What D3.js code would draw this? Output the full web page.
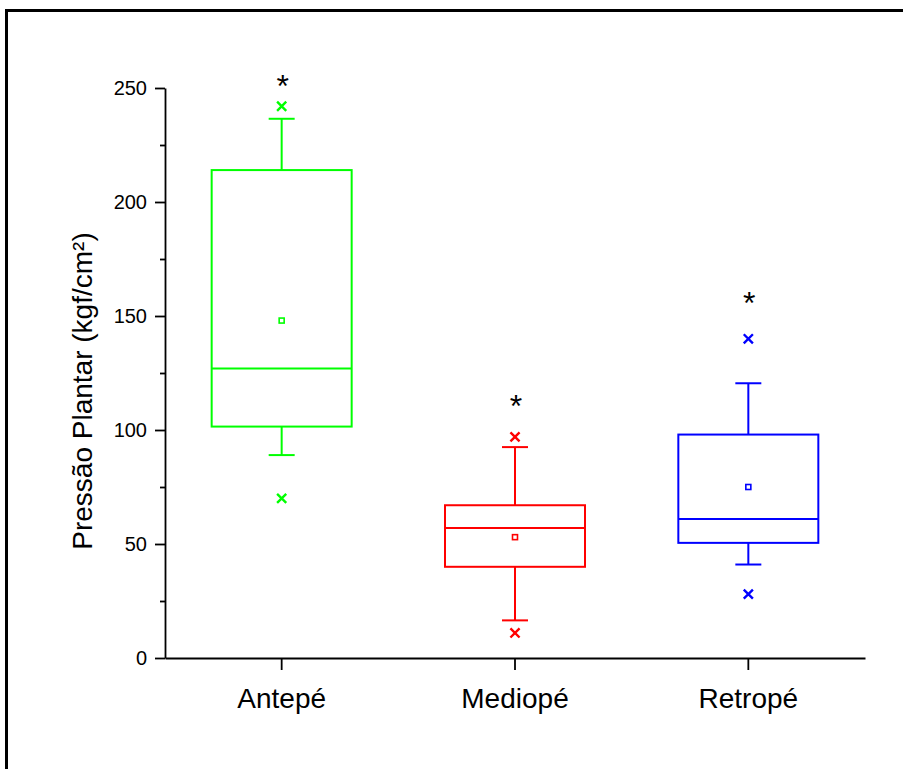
<!DOCTYPE html>
<html>
<head>
<meta charset="utf-8">
<script src="https://cdn.jsdelivr.net/npm/d3@7"></script>
<style>
  html, body { margin: 0; padding: 0; background: #fff; }
  svg { display: block; font-family: Arial, "Liberation Sans", sans-serif; }
</style>
</head>
<body>
<svg id="chart" width="903" height="769"></svg>
<script>
// Plantar pressure by foot region (kgf/cm²)
const categories  = ["Antepé", "Mediopé", "Retropé"];
const colors      = ["#00ff00", "#ff0000", "#0000ff"];
const whiskerLow  = [89, 16.5, 41];
const q1          = [101.5, 40, 50.5];
const median      = [127, 57, 61];
const q3          = [214, 67, 98];
const whiskerHigh = [236.5, 92.5, 120.5];
const mean        = [148, 53, 75];
const outlierLow  = [70, 11, 28];
const outlierHigh = [242, 97, 140];
const starLevel   = [252, 112, 157];
const yMajorTicks = [0, 50, 100, 150, 200, 250];
const yMinorTicks = [25, 75, 125, 175, 225];

const svg = d3.select("#chart");
const plotLeft = 165, plotRight = 865, plotTop = 88, plotBottom = 658;

// page frame
svg.append("rect")
  .attr("x", 6.5).attr("y", 10.5)
  .attr("width", 1000).attr("height", 1000)
  .attr("fill", "none").attr("stroke", "#000").attr("stroke-width", 3);

const x = d3.scaleBand().domain(categories).range([plotLeft, plotRight]).padding(0);
const y = d3.scaleLinear().domain([0, 250]).range([plotBottom, plotTop]);
const boxW = x.bandwidth() * 0.6;
const capW = 26;

// axes
const yAxis = svg.append("g").attr("transform", `translate(${plotLeft},0)`)
  .call(d3.axisLeft(y).tickValues(yMajorTicks).tickSize(10).tickPadding(8).tickSizeOuter(0));
const yMinor = svg.append("g").attr("transform", `translate(${plotLeft},0)`)
  .call(d3.axisLeft(y).tickValues(yMinorTicks).tickSize(5).tickFormat("").tickSizeOuter(0));
yMinor.select(".domain").remove();
const xAxis = svg.append("g").attr("transform", `translate(0,${plotBottom})`)
  .call(d3.axisBottom(x).tickSize(12).tickPadding(18).tickSizeOuter(0));

[yAxis, yMinor, xAxis].forEach(g => {
  g.selectAll("path, line").attr("stroke", "#000").attr("stroke-width", 1.8);
});
yAxis.selectAll("text").attr("font-size", 20).attr("fill", "#000")
  .attr("font-family", "Arial, 'Liberation Sans', sans-serif");
xAxis.selectAll("text").attr("font-size", 28).attr("fill", "#000")
  .attr("font-family", "Arial, 'Liberation Sans', sans-serif");

// y title
svg.append("text")
  .attr("transform", `translate(92,391) rotate(-90)`)
  .attr("text-anchor", "middle")
  .attr("font-size", 28)
  .text("Pressão Plantar (kgf/cm²)");

// boxes
categories.forEach((c, i) => {
  const cx = x(c) + x.bandwidth() / 2;
  const g = svg.append("g").attr("stroke", colors[i]).attr("stroke-width", 2).attr("fill", "none");

  // whiskers
  g.append("line").attr("x1", cx).attr("x2", cx).attr("y1", y(q3[i])).attr("y2", y(whiskerHigh[i]));
  g.append("line").attr("x1", cx).attr("x2", cx).attr("y1", y(q1[i])).attr("y2", y(whiskerLow[i]));
  g.append("line").attr("x1", cx - capW / 2).attr("x2", cx + capW / 2)
    .attr("y1", y(whiskerHigh[i])).attr("y2", y(whiskerHigh[i]));
  g.append("line").attr("x1", cx - capW / 2).attr("x2", cx + capW / 2)
    .attr("y1", y(whiskerLow[i])).attr("y2", y(whiskerLow[i]));

  // box and median
  g.append("rect").attr("x", cx - boxW / 2).attr("width", boxW)
    .attr("y", y(q3[i])).attr("height", y(q1[i]) - y(q3[i]));
  g.append("line").attr("x1", cx - boxW / 2).attr("x2", cx + boxW / 2)
    .attr("y1", y(median[i])).attr("y2", y(median[i]));

  // mean square
  g.append("rect").attr("x", cx - 2.5).attr("y", y(mean[i]) - 2.5)
    .attr("width", 5).attr("height", 5).attr("stroke-width", 1.6);

  // extreme values
  [outlierLow[i], outlierHigh[i]].forEach(v => {
    g.append("path")
      .attr("transform", `translate(${cx},${y(v)})`)
      .attr("d", d3.symbol(d3.symbolX, 56)())
      .attr("stroke-width", 2.4);
  });

  // significance mark
  svg.append("text")
    .attr("x", cx + 1).attr("y", y(starLevel[i]) + 14)
    .attr("text-anchor", "middle")
    .attr("font-size", 32)
    .attr("fill", "#000")
    .text("*");
});
</script>
</body>
</html>
